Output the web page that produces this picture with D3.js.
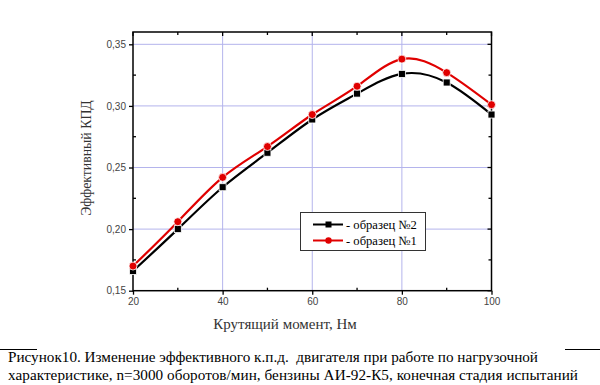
<!DOCTYPE html>
<html><head><meta charset="utf-8">
<script src="https://cdn.jsdelivr.net/npm/d3@7"></script>
<style>body{margin:0;background:#fff}svg{display:block}</style>
</head><body>
<svg id="c" width="600" height="385"></svg>
<script>
const torque = [20,30,40,50,60,70,80,90,100];
const sample2 = [0.166,0.200,0.234,0.262,0.289,0.310,0.326,0.319,0.293];
const sample1 = [0.170,0.206,0.242,0.267,0.293,0.316,0.338,0.327,0.301];
const xTicks = [20,40,60,80,100];
const yTicks = [0.15,0.20,0.25,0.30,0.35];
const xMinor = [30,50,70,90];
const yMinor = [0.175,0.225,0.275,0.325];
const legendLabels = ["- образец №2","- образец №1"];
const yTitle = "Эффективный КПД";
const xTitle = "Крутящий момент, Нм";
const caption = ["Рисунок10. Изменение эффективного к.п.д.  двигателя при работе по нагрузочной",
                 "характеристике, n=3000 оборотов/мин, бензины АИ-92-К5, конечная стадия испытаний"];

const svg = d3.select("#c");
const L=133, R=491.5, T=32, B=290.7;
const x = d3.scaleLinear().domain([20,100]).range([L,R]);
const y = d3.scaleLinear().domain([0.15,0.36]).range([B,T]);
const grid = "#b4b4ec";
// grid
svg.append("g").selectAll("line").data(xTicks.slice(1,-1)).join("line")
  .attr("x1",d=>x(d)).attr("x2",d=>x(d)).attr("y1",T).attr("y2",B)
  .attr("stroke",grid).attr("stroke-width",1);
svg.append("g").selectAll("line").data(yTicks.slice(1)).join("line")
  .attr("y1",d=>y(d)).attr("y2",d=>y(d)).attr("x1",L).attr("x2",R)
  .attr("stroke",grid).attr("stroke-width",1);

const tickFont = "Liberation Sans, Arial, sans-serif";
const fmt = d=>d3.format(".2f")(d).replace(".",",");
// bottom axis
const gx = svg.append("g").attr("transform",`translate(0,${B})`)
  .call(d3.axisBottom(x).tickValues(xTicks).tickSize(4).tickSizeOuter(0).tickPadding(3));
gx.select(".domain").remove();
gx.selectAll("text").attr("font-family",tickFont).attr("font-size",10).attr("fill","#444");
gx.selectAll("line").attr("stroke","#000").attr("stroke-width",1.3);
// left axis
const gy = svg.append("g").attr("transform",`translate(${L},0)`)
  .call(d3.axisLeft(y).tickValues(yTicks).tickFormat(fmt).tickSize(4).tickSizeOuter(0).tickPadding(3));
gy.select(".domain").remove();
gy.selectAll("text").attr("font-family",tickFont).attr("font-size",10).attr("fill","#444");
gy.selectAll("line").attr("stroke","#000").attr("stroke-width",1.3);
// minor ticks inward bottom / left
svg.append("g").selectAll("line").data(xMinor).join("line")
  .attr("x1",d=>x(d)).attr("x2",d=>x(d)).attr("y1",B).attr("y2",B-3).attr("stroke","#000").attr("stroke-width",1.3);
svg.append("g").selectAll("line").data(yMinor).join("line")
  .attr("y1",d=>y(d)).attr("y2",d=>y(d)).attr("x1",L).attr("x2",L+3).attr("stroke","#000").attr("stroke-width",1.3);
// top and right ticks inward
svg.append("g").selectAll("line").data(xTicks.concat(xMinor)).join("line")
  .attr("x1",d=>x(d)).attr("x2",d=>x(d)).attr("y1",T).attr("y2",d=>T+(xTicks.includes(d)?4:3)).attr("stroke","#000").attr("stroke-width",1.3);
svg.append("g").selectAll("line").data(yTicks.concat(yMinor)).join("line")
  .attr("y1",d=>y(d)).attr("y2",d=>y(d)).attr("x1",R).attr("x2",d=>R-(yTicks.includes(d)?4:3)).attr("stroke","#000").attr("stroke-width",1.3);
// frame
svg.append("rect").attr("x",L).attr("y",T).attr("width",R-L).attr("height",B-T)
  .attr("fill","none").attr("stroke","#000").attr("stroke-width",1.5);

// lines
const line = d3.line().x((d,i)=>x(torque[i])).y(d=>y(d)).curve(d3.curveNatural);
const series = [{v:sample2,c:"#000",m:"square"},{v:sample1,c:"#e00000",m:"circle"}];
series.forEach(s=>{
  svg.append("path").attr("d",line(s.v)).attr("fill","none").attr("stroke",s.c).attr("stroke-width",2.2);
});
series.forEach(s=>{
  const g = svg.append("g");
  if(s.m==="square"){
    g.selectAll("rect").data(s.v).join("rect")
      .attr("x",(d,i)=>x(torque[i])-3.5).attr("y",d=>y(d)-3.5).attr("width",7).attr("height",7)
      .attr("fill","#000").attr("stroke","#fff").attr("stroke-width",0.8);
  } else {
    g.selectAll("circle").data(s.v).join("circle")
      .attr("cx",(d,i)=>x(torque[i])).attr("cy",d=>y(d)).attr("r",4)
      .attr("fill","#e00000").attr("stroke","#fff").attr("stroke-width",0.8);
  }
});

// legend
const lg = svg.append("g");
lg.append("rect").attr("x",300.5).attr("y",212.5).attr("width",125).attr("height",38)
  .attr("fill","#fff").attr("stroke","#333").attr("stroke-width",1);
legendLabels.forEach((t,i)=>{
  const yy = 224.5 + i*16;
  const s = series[i];
  lg.append("line").attr("x1",313).attr("x2",343).attr("y1",yy).attr("y2",yy).attr("stroke",s.c).attr("stroke-width",2);
  if(s.m==="square") lg.append("rect").attr("x",325.5).attr("y",yy-3).attr("width",6).attr("height",6).attr("fill","#000");
  else lg.append("circle").attr("cx",328.5).attr("cy",yy).attr("r",3.2).attr("fill","#e00000");
  lg.append("text").attr("x",346).attr("y",yy+4).attr("font-family","Liberation Serif, Times New Roman, serif")
    .attr("font-size",12.6).attr("fill","#000").text(t);
});

const serif = "Liberation Serif, Times New Roman, serif";
svg.append("text").attr("transform",`translate(91,158) rotate(-90)`).attr("text-anchor","middle")
  .attr("font-family",serif).attr("font-size",13.8).attr("fill","#333").text(yTitle);
svg.append("text").attr("x",285).attr("y",329).attr("text-anchor","middle")
  .attr("font-family",serif).attr("font-size",15).attr("fill","#333").text(xTitle);

// caption
svg.append("line").attr("x1",0).attr("x2",37).attr("y1",349.5).attr("y2",349.5).attr("stroke","#000").attr("stroke-width",1);
svg.append("line").attr("x1",565).attr("x2",600).attr("y1",349.5).attr("y2",349.5).attr("stroke","#000").attr("stroke-width",1);
const capLen = [530, 570];
caption.forEach((t,i)=>{
  svg.append("text").attr("x",8).attr("y",362+i*17.5).attr("font-family",serif).attr("font-size",15.2)
    .style("white-space","pre").attr("textLength",capLen[i]).attr("lengthAdjust","spacing")
    .attr("fill","#000").text(t);
});
</script>
</body></html>
